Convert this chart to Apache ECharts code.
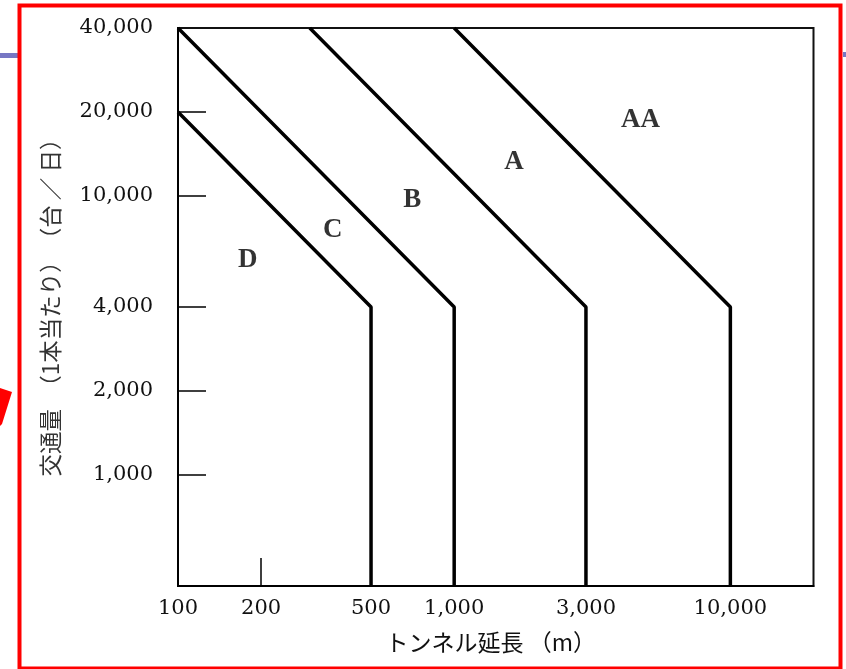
<!DOCTYPE html>
<html>
<head>
<meta charset="utf-8">
<script src="https://cdn.jsdelivr.net/npm/echarts@6/dist/echarts.min.js"></script>
<style>
html,body{margin:0;padding:0;background:#fff;}
#c{width:846px;height:669px;}
</style>
</head>
<body>
<div id="c"></div>
<script>
// Axis tick labels
const xTicks = [100, 200, 500, 1000, 3000, 10000];
const yTicks = [1000, 2000, 4000, 10000, 20000, 40000];
// Class boundary lines [tunnel length (m), traffic (veh/day)]
const lineDC = [[100, 20000], [500, 4000], [500, 400]];
const lineCB = [[100, 40000], [1000, 4000], [1000, 400]];
const lineBA = [[300, 40000], [3000, 4000], [3000, 400]];
const lineAAA = [[1000, 40000], [10000, 4000], [10000, 400]];
// Region labels
const regionNames = ['D', 'C', 'B', 'A', 'AA'];
const regionX = [179, 363, 705, 1647, 4730];
const regionY = [5900, 7550, 9670, 13240, 18700];

const fmt = v => Math.round(v).toLocaleString('en-US');
const chart = echarts.init(document.getElementById('c'));
const lineStyle = {color: '#000', width: 3.5};
const mkLine = d => ({type: 'line', data: d, symbol: 'none', lineStyle: lineStyle, z: 3, silent: true});

chart.setOption({
  animation: false,
  grid: {left: 178, top: 28, right: 32.5, bottom: 83, show: true, borderColor: '#111', borderWidth: 2},
  xAxis: {
    type: 'log', logBase: 10, min: 100, max: 20000,
    name: 'トンネル延長 （m）', nameLocation: 'middle', nameGap: 45,
    nameTextStyle: {fontFamily: 'Noto Sans CJK JP', fontSize: 23, color: '#111', padding: [0, 10, 0, 0]},
    axisLine: {show: true, lineStyle: {color: '#000', width: 2}},
    axisTick: {show: true, inside: true, length: 28, lineStyle: {color: '#000', width: 1.5}, customValues: [200, 500, 1000, 3000, 10000]},
    axisLabel: {show: true, customValues: xTicks, formatter: fmt, margin: 12, fontFamily: 'DejaVu Serif', fontSize: 21, color: '#111'},
    splitLine: {show: false}, minorTick: {show: false}
  },
  yAxis: {
    type: 'log', logBase: 10, min: 400, max: 40000,
    name: '交通量　（1本当たり）　（台 ／ 日）', nameLocation: 'middle', nameGap: 116, nameRotate: 90,
    nameTextStyle: {fontFamily: 'Noto Sans CJK JP', fontSize: 22.5, color: '#333', padding: [0, 0, 0, 10]},
    axisLine: {show: true, lineStyle: {color: '#000', width: 2}},
    axisTick: {show: true, inside: true, length: 28, lineStyle: {color: '#000', width: 1.5}, customValues: [1000, 2000, 4000, 10000, 20000]},
    axisLabel: {show: true, customValues: yTicks, formatter: fmt, margin: 25, fontFamily: 'DejaVu Serif', fontSize: 21, color: '#111'},
    splitLine: {show: false}, minorTick: {show: false}
  },
  series: [
    mkLine(lineDC), mkLine(lineCB), mkLine(lineBA), mkLine(lineAAA),
    {
      type: 'scatter', symbolSize: 1, itemStyle: {color: 'rgba(0,0,0,0)'}, silent: true,
      data: regionNames.map((n, i) => ({value: [regionX[i], regionY[i]], name: n})),
      label: {show: true, position: 'inside', formatter: p => p.name, fontFamily: 'Liberation Serif', fontWeight: 'bold', fontSize: 27, color: '#000'}
    }
  ],
  graphic: [
    {type: 'rect', shape: {x: 19.5, y: 5.5, width: 821, height: 663}, style: {fill: 'none', stroke: '#ff0000', lineWidth: 4}, z: 10},
    {type: 'rect', shape: {x: 0, y: 53, width: 18, height: 5}, style: {fill: '#7777c4'}, z: 9},
    {type: 'rect', shape: {x: 843, y: 52, width: 3, height: 5}, style: {fill: '#7777c4'}, z: 9},
    {type: 'polygon', shape: {points: [[0, 388], [12, 392], [2, 424], [0, 426]]}, style: {fill: '#ff0000'}, z: 9}
  ]
});
</script>
</body>
</html>
